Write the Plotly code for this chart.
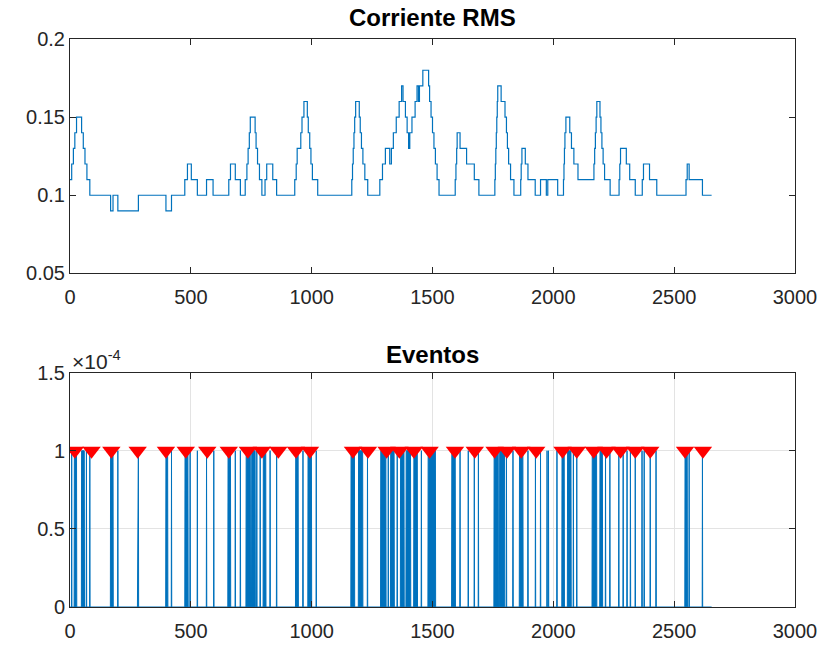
import plotly.graph_objects as go

# ---------------- data ----------------
# RMS current: change points (sample index) and value that starts there (stair-step)
rms_x = [0, 7, 14, 20, 27, 48, 55, 62, 70, 82,
         168, 178, 198, 283,
         397, 420,
         475, 486, 502, 527,
         565, 592,
         657, 664, 684, 705,
         725, 732, 737, 742, 746, 766, 770, 776, 784, 794,
         807, 814, 839, 855,
         930, 936, 940, 955, 960, 968, 982, 986, 992, 997, 1003, 1010, 1025,
         1166, 1169, 1172, 1175, 1178, 1182, 1197, 1201, 1206, 1212, 1220, 1232,
         1282, 1293, 1305, 1323, 1330, 1338, 1350, 1362, 1372, 1378, 1388, 1395,
         1401, 1406, 1415, 1428, 1436, 1442, 1446, 1460, 1484, 1488, 1494, 1500,
         1506, 1512, 1519, 1527,
         1594, 1597, 1600, 1602, 1614, 1641, 1673, 1692,
         1758, 1760, 1762, 1764, 1766, 1768, 1770, 1784, 1800, 1806, 1810, 1815, 1823, 1837,
         1865, 1867, 1870, 1884, 1895, 1925, 1947, 1971, 1977, 2018,
         2042, 2044, 2046, 2048, 2052, 2068, 2075, 2085, 2102,
         2168, 2171, 2174, 2177, 2180, 2193, 2197, 2201, 2206, 2212, 2235,
         2272, 2275, 2278, 2302, 2316, 2339, 2368, 2373, 2398, 2428,
         2549, 2554, 2562, 2617, 2655]
rms_v = [0.11, 0.12, 0.13, 0.14, 0.15, 0.14, 0.13, 0.12, 0.11, 0.10,
         0.09, 0.10, 0.09, 0.10,
         0.09, 0.10,
         0.11, 0.12, 0.11, 0.10,
         0.11, 0.10,
         0.11, 0.12, 0.11, 0.10,
         0.11, 0.12, 0.13, 0.14, 0.15, 0.14, 0.13, 0.12, 0.11, 0.10,
         0.11, 0.12, 0.11, 0.10,
         0.11, 0.12, 0.13, 0.14, 0.15, 0.16, 0.15, 0.14, 0.13, 0.12, 0.11, 0.11, 0.10,
         0.11, 0.12, 0.13, 0.14, 0.15, 0.16, 0.15, 0.14, 0.13, 0.12, 0.11, 0.10,
         0.11, 0.12, 0.13, 0.12, 0.13, 0.14, 0.15, 0.16, 0.17, 0.16, 0.15, 0.14,
         0.13, 0.14, 0.15, 0.16, 0.17, 0.16, 0.17, 0.18, 0.17, 0.16, 0.15, 0.14,
         0.13, 0.12, 0.11, 0.10,
         0.11, 0.12, 0.13, 0.14, 0.13, 0.12, 0.11, 0.10,
         0.11, 0.12, 0.13, 0.14, 0.15, 0.16, 0.17, 0.16, 0.15, 0.14, 0.13, 0.12, 0.11, 0.10,
         0.11, 0.12, 0.13, 0.12, 0.11, 0.10, 0.11, 0.10, 0.11, 0.10,
         0.11, 0.12, 0.13, 0.14, 0.15, 0.14, 0.13, 0.12, 0.11,
         0.12, 0.13, 0.14, 0.15, 0.16, 0.15, 0.14, 0.13, 0.12, 0.11, 0.10,
         0.11, 0.12, 0.13, 0.12, 0.11, 0.10, 0.11, 0.12, 0.11, 0.10,
         0.11, 0.12, 0.11, 0.10, 0.10]

# Event pulses: (start, end) sample indices where the signal is 1e-4
event_start = [7, 18, 48, 68, 82, 168, 198, 280, 397, 420, 476, 497, 527, 565, 595,
               654, 684, 705, 729, 752, 773, 787, 800, 828, 855,
               934, 964, 985, 1019, 1163, 1194, 1231, 1286, 1317, 1327, 1354, 1368,
               1391, 1423, 1454, 1482, 1580, 1614, 1648, 1673, 1690, 1755, 1778,
               1806, 1833, 1860, 1895, 1926, 1947, 1974, 1980, 2015, 2036, 2059,
               2083, 2097, 2161, 2193, 2216, 2234, 2271, 2289, 2305, 2319, 2339,
               2367, 2376, 2401, 2425, 2545, 2562, 2617]
event_end = [7, 27, 59, 68, 82, 178, 198, 283, 404, 420, 488, 497, 527, 565, 595,
             664, 684, 705, 746, 766, 773, 787, 810, 828, 855,
             944, 964, 999, 1019, 1177, 1211, 1231, 1307, 1317, 1341, 1354, 1382,
             1409, 1437, 1454, 1512, 1594, 1614, 1648, 1673, 1690, 1772, 1798,
             1806, 1833, 1874, 1895, 1926, 1947, 1974, 1980, 2015, 2045, 2073,
             2083, 2097, 2179, 2203, 2216, 2234, 2271, 2289, 2305, 2319, 2339,
             2367, 2376, 2401, 2425, 2554, 2562, 2617]
event_level = 1e-4
signal_end = 2655

# Detected peaks (red markers)
peak_x = [20, 89, 171, 280, 397, 479, 568, 657, 736, 794, 862, 935, 993,
          1171, 1233, 1310, 1363, 1423, 1488, 1593, 1675, 1757, 1808, 1867,
          1929, 2038, 2097, 2167, 2220, 2278, 2339, 2401, 2545, 2619]
peak_y = [1e-4] * len(peak_x)

# ---------------- build the event signal ----------------
ev_x, ev_y = [0], [0]
for s, e in zip(event_start, event_end):
    ev_x += [s - 1, s, e, e + 1]
    ev_y += [0, event_level, event_level, 0]
ev_x.append(signal_end)
ev_y.append(0)

BLUE = "#0072BD"
AXC = "#262626"
FONT = "Liberation Sans, Arial, sans-serif"

fig = go.Figure()
fig.add_trace(go.Scatter(x=rms_x, y=rms_v, mode="lines", line=dict(color=BLUE, width=1.2, shape="hv"),
                         xaxis="x", yaxis="y", showlegend=False))
fig.add_trace(go.Scatter(x=ev_x, y=ev_y, mode="lines", line=dict(color=BLUE, width=1),
                         fill="tozeroy", fillcolor=BLUE,
                         xaxis="x2", yaxis="y2", showlegend=False))
fig.add_trace(go.Scatter(x=peak_x, y=peak_y, mode="markers",
                         marker=dict(symbol="triangle-down", color="#FF0000", size=16, line=dict(width=0)),
                         xaxis="x2", yaxis="y2", showlegend=False))

axis_common = dict(showline=True, linecolor=AXC, linewidth=1, mirror="ticks", ticks="inside",
                   ticklen=6, tickcolor=AXC, tickfont=dict(family=FONT, size=20, color=AXC),
                   zeroline=False)

fig.update_layout(
    width=829, height=654,
    margin=dict(l=70, r=28, t=39, b=43),
    paper_bgcolor="white", plot_bgcolor="white",
    font=dict(family=FONT, color=AXC),
    xaxis=dict(domain=[0, 1], range=[0, 3000], tickvals=[0, 500, 1000, 1500, 2000, 2500, 3000],
               anchor="y", showgrid=False, ticklabelstandoff=6, **axis_common),
    yaxis=dict(domain=[0.5874, 1], range=[0.05, 0.2], tickvals=[0.05, 0.1, 0.15, 0.2],
               ticktext=["0.05", "0.1", "0.15", "0.2"], anchor="x", showgrid=False, **axis_common),
    xaxis2=dict(domain=[0, 1], range=[0, 3000], tickvals=[0, 500, 1000, 1500, 2000, 2500, 3000],
                anchor="y2", showgrid=True, gridcolor="#e3e3e3", gridwidth=1, ticklabelstandoff=6,
                **axis_common),
    yaxis2=dict(domain=[0, 0.4126], range=[0, 1.5e-4], tickvals=[0, 0.5e-4, 1e-4, 1.5e-4],
                ticktext=["0", "0.5", "1", "1.5"], anchor="x2", showgrid=True, gridcolor="#e3e3e3",
                gridwidth=1, **axis_common),
    annotations=[
        dict(text="<b>Corriente RMS</b>", x=0.5, y=1.0385, xref="paper", yref="paper",
             showarrow=False, font=dict(family=FONT, size=24, color="black"), xanchor="center", yanchor="middle"),
        dict(text="<b>Eventos</b>", x=0.5, y=0.444, xref="paper", yref="paper",
             showarrow=False, font=dict(family=FONT, size=24, color="black"), xanchor="center", yanchor="middle"),
        dict(text="×10<sup>-4</sup>", x=0.0, y=0.434, xref="paper", yref="paper",
             showarrow=False, font=dict(family=FONT, size=21, color=AXC), xanchor="left", yanchor="middle"),
    ],
)

fig.write_html("out.html")
